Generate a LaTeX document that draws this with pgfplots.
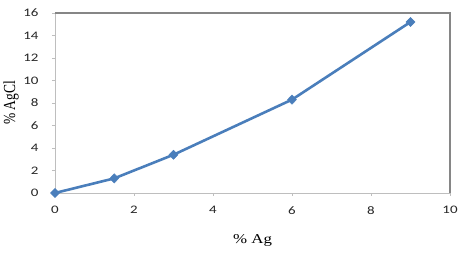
\documentclass[border=0pt]{standalone}
\usepackage{pgfplots}
\pgfplotsset{compat=1.18}
\usepackage{fontspec}
\setmainfont{Carlito}
\newfontfamily\serif{Liberation Serif}
\definecolor{ser}{RGB}{74,126,187}
\definecolor{lg}{RGB}{190,190,190}
\definecolor{dg}{RGB}{134,134,134}
\begin{document}
\begin{tikzpicture}[x=1pt,y=1pt]
\useasboundingbox (-55,-60) rectangle (406,193);
\begin{axis}[
  at={(0,0)}, anchor=south west,
  scale only axis, width=395pt, height=180pt,
  xmin=0, xmax=10, ymin=0, ymax=16,
  xtick={0,2,...,10}, ytick={0,2,...,16},
  axis lines=left, axis line style={lg, line width=0.9pt, -},
  tick style={lg, line width=0.8pt},
  tick align=outside, major tick length=3pt,
  xticklabel={\scalebox{1.3}[1]{\pgfmathprintnumber{\tick}}},
  yticklabel={\scalebox{1.3}[1]{\pgfmathprintnumber{\tick}}},
  /pgf/number format/assume math mode=true,
  tick label style={font=\fontsize{11.5}{13}\selectfont, black!85},
  xticklabel style={yshift=-7pt},
  yticklabel style={xshift=-10pt},
  xlabel={\scalebox{1.25}[1]{\serif\% Ag}}, ylabel={\scalebox{1}[1.25]{\serif\% AgCl}},
  label style={font=\fontsize{13.5}{15}\selectfont},
  xlabel style={at={(axis description cs:0.5,0)}, anchor=center, yshift=-47pt},
  ylabel style={at={(axis description cs:0,0.5)}, anchor=center, yshift=44pt},
  clip=false,
]
\draw[dg, line width=1.1pt] (rel axis cs:0,1) -- (rel axis cs:1,1) -- (rel axis cs:1,0);
\addplot[ser, line width=2.6pt, mark=diamond*, mark size=4.6pt, mark options={line width=0.5pt, fill=ser, xscale=1.3}]
coordinates {(0,0) (1.5,1.3) (3,3.4) (6,8.3) (9,15.2)};
\end{axis}
\end{tikzpicture}
\end{document}
